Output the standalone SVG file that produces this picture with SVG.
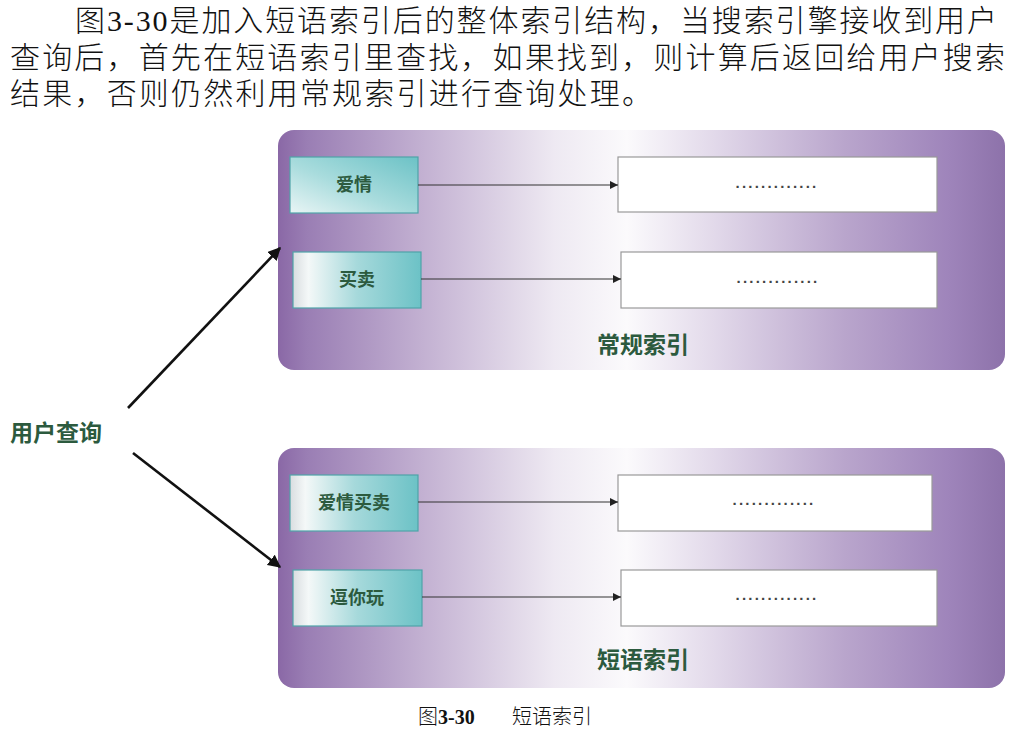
<svg xmlns="http://www.w3.org/2000/svg" width="1030" height="739" viewBox="0 0 1030 739">
<defs>
<style>
.para{font-family:"Liberation Serif","Noto Sans CJK SC",serif;font-size:30px;fill:#111;font-weight:300}
.lbl{font-family:"Noto Sans CJK SC","Noto Sans",sans-serif;font-weight:bold;fill:#2c5a3e}
.key{font-size:18px}
.title{font-size:23px}
.dots{font-family:"Liberation Sans",sans-serif;font-size:15px;fill:#444;font-weight:bold;letter-spacing:2.2px}
.kbox{stroke:#4fa3a8;stroke-width:1.2}
.vbox{fill:#fff;stroke:#999;stroke-width:1.2}
.small{stroke:#333;stroke-width:1.2;fill:none}
.big{stroke:#111;stroke-width:2.6;fill:none}
.cap{font-family:"Liberation Serif","Noto Sans CJK SC",serif;font-size:20px;fill:#111}
</style>
<linearGradient id="panel" x1="0" y1="0" x2="1" y2="0">
<stop offset="0" stop-color="#8a68a6"/>
<stop offset="0.04" stop-color="#9a7eb4"/>
<stop offset="0.2" stop-color="#c3b1d2"/>
<stop offset="0.38" stop-color="#eee9f2"/>
<stop offset="0.48" stop-color="#fbfafc"/>
<stop offset="0.6" stop-color="#e2d9ea"/>
<stop offset="0.78" stop-color="#b9a5cc"/>
<stop offset="0.92" stop-color="#9f85bb"/>
<stop offset="1" stop-color="#8d72aa"/>
</linearGradient>
<linearGradient id="keyg" x1="0" y1="1" x2="1" y2="0">
<stop offset="0" stop-color="#e9f5f5"/>
<stop offset="0.45" stop-color="#a9dcdd"/>
<stop offset="1" stop-color="#6cc2c6"/>
</linearGradient>
<linearGradient id="keyg2" x1="0" y1="0" x2="1" y2="0">
<stop offset="0" stop-color="#d9dde0"/>
<stop offset="0.12" stop-color="#f4f8f8"/>
<stop offset="0.5" stop-color="#a6d9db"/>
<stop offset="1" stop-color="#6cc2c6"/>
</linearGradient>
<marker id="ah" viewBox="0 0 10 10" refX="10" refY="5" markerWidth="8" markerHeight="8" markerUnits="userSpaceOnUse" orient="auto">
<path d="M0,0 L10,5 L0,10 z" fill="#222"/>
</marker>
<marker id="ahb" viewBox="0 0 10 10" refX="9" refY="5" markerWidth="13" markerHeight="13" markerUnits="userSpaceOnUse" orient="auto">
<path d="M0,0 L10,5 L0,10 z" fill="#111"/>
</marker>
</defs>
<rect width="1030" height="739" fill="#fff"/>

<g id="paragraph">
<text class="para" x="75" y="31" textLength="922" lengthAdjust="spacing">图3-30是加入短语索引后的整体索引结构，当搜索引擎接收到用户</text>
<text class="para" x="10" y="68" textLength="995" lengthAdjust="spacing">查询后，首先在短语索引里查找，如果找到，则计算后返回给用户搜索</text>
<text class="para" x="10" y="104" textLength="642" lengthAdjust="spacing">结果，否则仍然利用常规索引进行查询处理。</text>
</g>

<g id="regular-index">
<rect x="278" y="130" width="727" height="240" rx="16" fill="url(#panel)"/>
<text class="lbl title" x="643" y="353" text-anchor="middle">常规索引</text>
</g>
<g id="phrase-index">
<rect x="278" y="448" width="727" height="240" rx="16" fill="url(#panel)"/>
<text class="lbl title" x="643" y="668" text-anchor="middle">短语索引</text>
</g>

<g id="key-aiqing">
<rect class="kbox" x="290" y="157" width="128" height="56" fill="url(#keyg)"/>
<text class="lbl key" x="354" y="191" text-anchor="middle">爱情</text>
</g>
<g id="val-aiqing">
<rect class="vbox" x="618" y="157" width="319" height="55"/>
<text class="dots" x="777" y="188" text-anchor="middle">.............</text>
</g>
<g id="key-maimai">
<rect class="kbox" x="293" y="252" width="128" height="56" fill="url(#keyg2)"/>
<text class="lbl key" x="357" y="286" text-anchor="middle">买卖</text>
</g>
<g id="val-maimai">
<rect class="vbox" x="621" y="252" width="316" height="56"/>
<text class="dots" x="778" y="283" text-anchor="middle">.............</text>
</g>
<g id="key-aiqingmaimai">
<rect class="kbox" x="290" y="475" width="128" height="56" fill="url(#keyg2)"/>
<text class="lbl key" x="354" y="509" text-anchor="middle">爱情买卖</text>
</g>
<g id="val-aiqingmaimai">
<rect class="vbox" x="618" y="475" width="314" height="56"/>
<text class="dots" x="774" y="505" text-anchor="middle">.............</text>
</g>
<g id="key-douniwan">
<rect class="kbox" x="293" y="570" width="129" height="56" fill="url(#keyg2)"/>
<text class="lbl key" x="357" y="604" text-anchor="middle">逗你玩</text>
</g>
<g id="val-douniwan">
<rect class="vbox" x="621" y="570" width="316" height="56"/>
<text class="dots" x="777" y="600" text-anchor="middle">.............</text>
</g>

<g id="user-query">
<text class="lbl" x="10" y="441" font-size="23">用户查询</text>
</g>

<g id="connectors">
<line class="big" x1="128" y1="408" x2="280" y2="248" marker-end="url(#ahb)"/>
<line class="big" x1="133" y1="453" x2="280" y2="567" marker-end="url(#ahb)"/>
<line class="small" x1="418" y1="185" x2="618" y2="185" marker-end="url(#ah)"/>
<line class="small" x1="421" y1="279" x2="621" y2="279" marker-end="url(#ah)"/>
<line class="small" x1="418" y1="502" x2="618" y2="502" marker-end="url(#ah)"/>
<line class="small" x1="422" y1="597" x2="621" y2="597" marker-end="url(#ah)"/>
</g>

<g id="caption">
<text class="cap" x="418" y="724"><tspan font-weight="300">图</tspan><tspan font-weight="bold">3-30</tspan><tspan x="512" font-weight="300">短语索引</tspan></text>
</g>
</svg>
